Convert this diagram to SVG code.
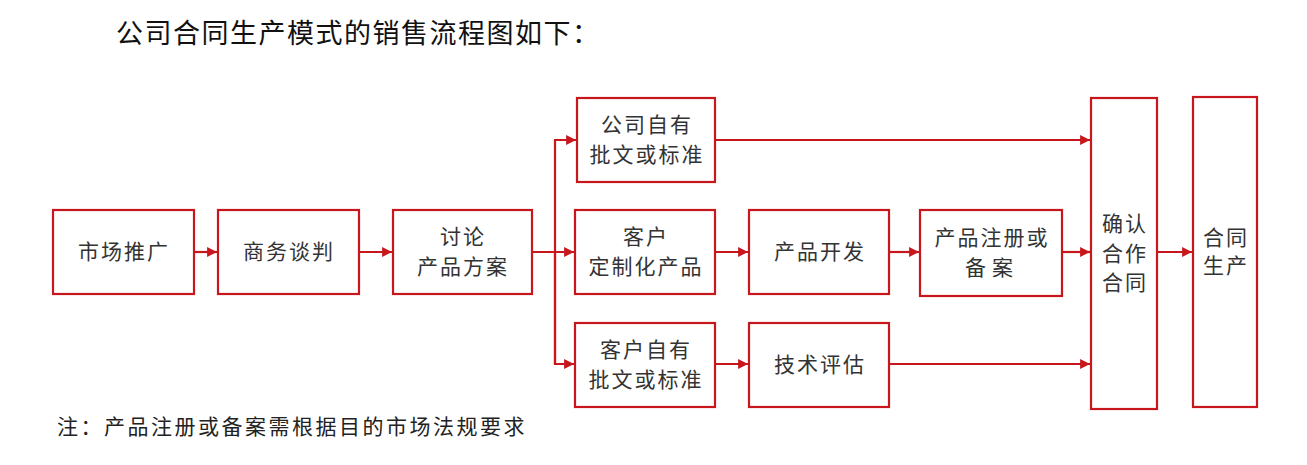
<svg xmlns="http://www.w3.org/2000/svg" width="1307" height="465" viewBox="0 0 1307 465">
<style>
.box{fill:#fff;stroke:#c8161d;stroke-width:2.2}
.t{font-family:"Noto Sans CJK SC",sans-serif;font-size:21px;fill:#333;text-anchor:middle;letter-spacing:2px}
.c{fill:none;stroke:#c8161d;stroke-width:2.2}
.title{font-family:"Noto Sans CJK SC",sans-serif;font-size:27px;fill:#111;letter-spacing:1.5px}
.note{font-family:"Noto Sans CJK SC",sans-serif;font-size:21px;fill:#222;letter-spacing:2.5px}
</style>
<defs>
<marker id="a" viewBox="0 0 10 10" refX="10" refY="5" markerWidth="5" markerHeight="4.5" orient="auto" markerUnits="strokeWidth">
<path d="M0,0 L10,5 L0,10 Z" fill="#c8161d"/>
</marker>
</defs>
<rect width="1307" height="465" fill="#fff"/>
<text class="title" x="116" y="43">公司合同生产模式的销售流程图如下：</text>
<g id="connectors">
<line class="c" x1="194" y1="252" x2="217" y2="252" marker-end="url(#a)"/>
<line class="c" x1="359" y1="252" x2="392" y2="252" marker-end="url(#a)"/>
<line class="c" x1="532" y1="252" x2="574" y2="252" marker-end="url(#a)"/>
<polyline class="c" points="555,364 555,140 576,140" marker-end="url(#a)"/>
<polyline class="c" points="555,252 555,364 574,364" marker-end="url(#a)"/>
<line class="c" x1="715" y1="140" x2="1090" y2="140" marker-end="url(#a)"/>
<line class="c" x1="715" y1="252" x2="748" y2="252" marker-end="url(#a)"/>
<line class="c" x1="889" y1="252" x2="919" y2="252" marker-end="url(#a)"/>
<line class="c" x1="1062" y1="252" x2="1090" y2="252" marker-end="url(#a)"/>
<line class="c" x1="1157" y1="252" x2="1192" y2="252" marker-end="url(#a)"/>
<line class="c" x1="715" y1="364" x2="748" y2="364" marker-end="url(#a)"/>
<line class="c" x1="889" y1="364" x2="1090" y2="364" marker-end="url(#a)"/>
</g>
<g id="n1"><rect class="box" x="53" y="210" width="141" height="84"/><text class="t" x="124" y="259">市场推广</text></g>
<g id="n2"><rect class="box" x="218" y="210" width="141" height="84"/><text class="t" x="289" y="259">商务谈判</text></g>
<g id="n3"><rect class="box" x="393" y="210" width="139" height="84"/><text class="t" x="463" y="244">讨论</text><text class="t" x="463" y="274">产品方案</text></g>
<g id="n4"><rect class="box" x="577" y="98" width="138" height="84"/><text class="t" x="647" y="132">公司自有</text><text class="t" x="647" y="162">批文或标准</text></g>
<g id="n5"><rect class="box" x="575" y="210" width="140" height="84"/><text class="t" x="646" y="244">客户</text><text class="t" x="646" y="274">定制化产品</text></g>
<g id="n6"><rect class="box" x="749" y="210" width="140" height="84"/><text class="t" x="820" y="259">产品开发</text></g>
<g id="n7"><rect class="box" x="920" y="210" width="142" height="86"/><text class="t" x="992" y="245">产品注册或</text><text class="t" x="992" y="275" style="letter-spacing:6px">备案</text></g>
<g id="n8"><rect class="box" x="575" y="323" width="140" height="84"/><text class="t" x="646" y="357">客户自有</text><text class="t" x="646" y="387">批文或标准</text></g>
<g id="n9"><rect class="box" x="749" y="323" width="140" height="84"/><text class="t" x="820" y="372">技术评估</text></g>
<g id="n10"><rect class="box" x="1091" y="98" width="66" height="311"/><text class="t" x="1125" y="231">确认</text><text class="t" x="1125" y="261">合作</text><text class="t" x="1125" y="290">合同</text></g>
<g id="n11"><rect class="box" x="1193" y="97" width="64" height="310"/><text class="t" x="1226" y="245">合同</text><text class="t" x="1226" y="273">生产</text></g>
<text class="note" x="57" y="434">注：产品注册或备案需根据目的市场法规要求</text>
</svg>
